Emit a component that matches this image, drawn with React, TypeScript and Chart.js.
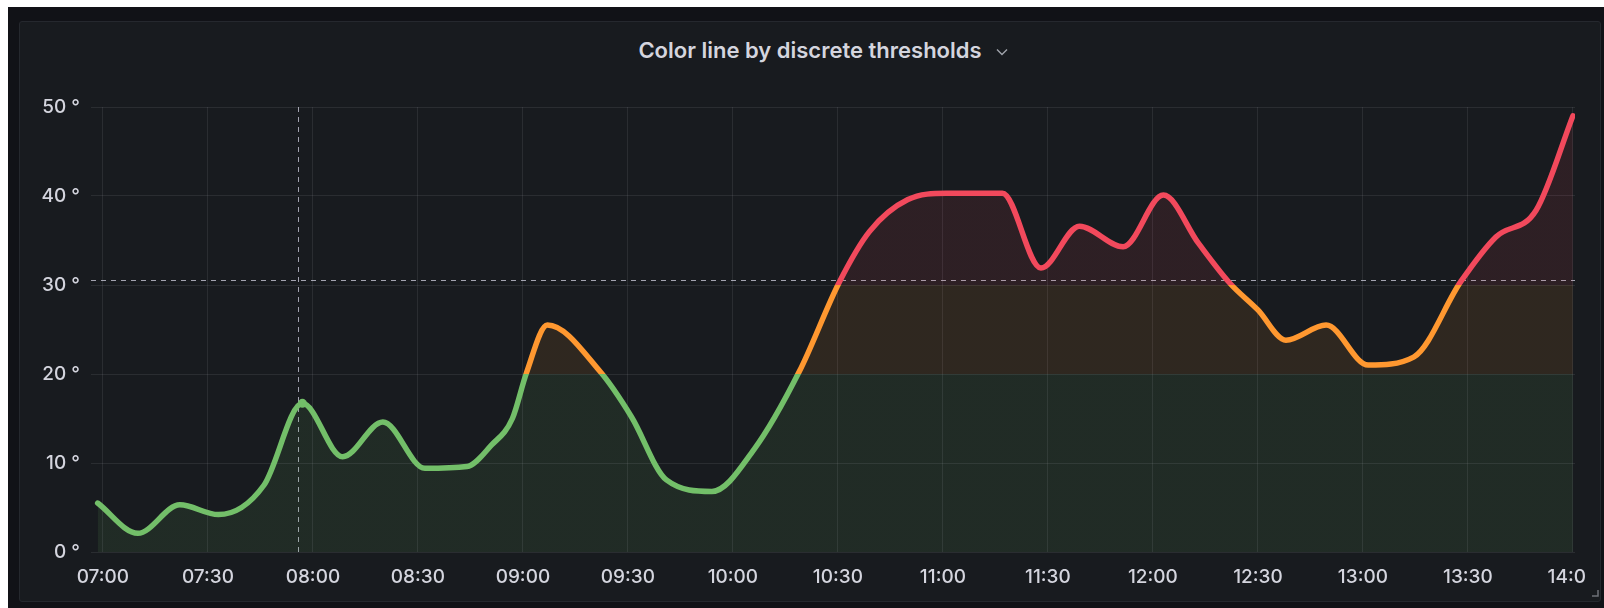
import React, { useEffect, useRef } from 'react';
import { Chart, registerables } from 'chart.js';

Chart.register(...registerables);

// minutes after 07:00
const TIME_MINUTES = [-1.5, 10, 22, 33, 46, 57, 68.5, 80, 92, 104, 111, 117, 121, 127, 142, 151, 161, 174, 186, 199, 210.5, 219, 230, 241, 257, 268, 279, 291.5, 303, 313, 322, 330, 338, 349.5, 361.5, 374.5, 388, 398, 409.5, 420];
const TEMPERATURES = [5.5, 2.1, 5.3, 4.2, 7.5, 16.7, 10.7, 14.6, 9.4, 9.6, 12, 15, 20.1, 25.5, 20.3, 15.2, 8.1, 6.8, 11.5, 20.3, 30.4, 36, 39.6, 40.3, 40.3, 31.9, 36.6, 34.3, 40.1, 34.7, 30.2, 27.2, 23.8, 25.5, 21, 21.9, 30.4, 35.4, 38.4, 49];

const X_TICK_VALUES = [0, 30, 60, 90, 120, 150, 180, 210, 240, 270, 300, 330, 360, 390, 420];
const X_TICK_LABELS = ['07:00', '07:30', '08:00', '08:30', '09:00', '09:30', '10:00', '10:30', '11:00', '11:30', '12:00', '12:30', '13:00', '13:30', '14:00'];
const Y_TICK_VALUES = [0, 10, 20, 30, 40, 50];

const X_MIN = -3.4;
const X_MAX = 420.6;

const THRESHOLDS = [20, 30];
const THRESHOLD_COLORS = ['#73bf69', '#ff9830', '#f2495c'];
const THRESHOLD_FILLS = ['rgba(115,191,105,0.1)', 'rgba(255,152,48,0.1)', 'rgba(242,73,92,0.1)'];

const CURSOR_X = 55.7;
const CURSOR_Y = 30.56;
const HOVER_INDEX = 5;

const TITLE = 'Color line by discrete thresholds';

function bandGradient(chart: any, colors: string[]) {
  const { ctx, chartArea, scales } = chart;
  if (!chartArea) return colors[0];
  const top = chartArea.top;
  const bottom = chartArea.bottom;
  const h = bottom - top;
  const g = ctx.createLinearGradient(0, bottom, 0, top);
  g.addColorStop(0, colors[0]);
  THRESHOLDS.forEach((t, i) => {
    const p = Math.min(1, Math.max(0, (bottom - scales.y.getPixelForValue(t)) / h));
    g.addColorStop(p, colors[i]);
    g.addColorStop(p, colors[i + 1]);
  });
  g.addColorStop(1, colors[colors.length - 1]);
  return g;
}

const crosshairPlugin = {
  id: 'crosshair',
  beforeDatasetsDraw(chart: any) {
    const { ctx, chartArea, scales } = chart;
    const x = scales.x.getPixelForValue(CURSOR_X);
    const y = scales.y.getPixelForValue(CURSOR_Y);
    ctx.save();
    ctx.strokeStyle = 'rgba(210,210,225,0.75)';
    ctx.lineWidth = 1;
    ctx.setLineDash([5, 5]);
    ctx.beginPath();
    ctx.moveTo(Math.round(x) + 0.5, chartArea.top);
    ctx.lineTo(Math.round(x) + 0.5, chartArea.bottom);
    ctx.moveTo(chartArea.left, Math.round(y) + 0.5);
    ctx.lineTo(chartArea.right, Math.round(y) + 0.5);
    ctx.stroke();
    ctx.restore();
  },
};

export default function App() {
  const canvasRef = useRef<HTMLCanvasElement | null>(null);

  useEffect(() => {
    if (!canvasRef.current) return;
    Chart.defaults.font.family = 'Inter';
    const data = TIME_MINUTES.map((t, i) => ({ x: t, y: TEMPERATURES[i] }));
    const chart = new Chart(canvasRef.current, {
      type: 'line',
      data: {
        datasets: [
          {
            data,
            borderWidth: 5.5,
            borderCapStyle: 'round',
            borderJoinStyle: 'round',
            cubicInterpolationMode: 'monotone',
            fill: 'origin',
            borderColor: (c: any) => bandGradient(c.chart, THRESHOLD_COLORS),
            backgroundColor: (c: any) => bandGradient(c.chart, THRESHOLD_FILLS),
            pointRadius: (c: any) => (c.dataIndex === HOVER_INDEX ? 4.5 : 0),
            pointHoverRadius: 0,
            pointBorderWidth: 0,
            pointBackgroundColor: THRESHOLD_COLORS[0],
          } as any,
        ],
      },
      options: {
        responsive: true,
        maintainAspectRatio: false,
        animation: false,
        events: [],
        layout: { padding: { top: 27, right: 55, left: 0, bottom: 0 } },
        plugins: { legend: { display: false }, tooltip: { enabled: false } },
        scales: {
          x: {
            type: 'linear',
            min: X_MIN,
            max: X_MAX,
            afterBuildTicks: (scale: any) => {
              scale.ticks = X_TICK_VALUES.map((v) => ({ value: v }));
            },
            afterFit: (scale: any) => {
              scale.height = 48;
            },
            ticks: {
              autoSkip: false,
              maxRotation: 0,
              padding: 14,
              color: '#d4d5de',
              font: { size: 19, family: 'Inter', weight: 500 },
              callback: (v: any) => {
                const i = X_TICK_VALUES.indexOf(Number(v));
                return i >= 0 ? X_TICK_LABELS[i] : '';
              },
            },
            grid: { color: 'rgba(204,204,220,0.1)', drawTicks: false },
            border: { display: false },
          },
          y: {
            min: 0,
            max: 50,
            afterBuildTicks: (scale: any) => {
              scale.ticks = Y_TICK_VALUES.map((v) => ({ value: v }));
            },
            afterFit: (scale: any) => {
              scale.width = 71;
            },
            ticks: {
              padding: 11,
              color: '#d4d5de',
              font: { size: 19, family: 'Inter', weight: 500 },
              callback: (v: any) => `${v} °`,
            },
            grid: { color: 'rgba(204,204,220,0.1)', drawTicks: false },
            border: { display: false },
          },
        },
      } as any,
      plugins: [crosshairPlugin],
    });
    return () => chart.destroy();
  }, []);

  return (
    <div style={{ fontFamily: 'Inter, sans-serif' }}>
      <div style={{ position: 'fixed', left: 8, top: 7, width: 1596, height: 601, background: '#111217' }} />
      <div
        style={{
          position: 'fixed',
          left: 19,
          top: 21,
          width: 1582,
          height: 581,
          background: '#181b1f',
          border: '1px solid #25282e',
          borderRadius: 3,
          boxSizing: 'border-box',
        }}
      />
      <div
        style={{
          position: 'fixed',
          left: 19,
          top: 36,
          width: 1582,
          height: 28,
          lineHeight: '28px',
          textAlign: 'center',
          color: '#d4d5de',
          fontSize: 22,
          fontWeight: 600,
          whiteSpace: 'nowrap',
        }}
      >
        <span style={{ position: 'relative' }}>
          {TITLE}
          <svg
            width="12"
            height="8"
            viewBox="0 0 12 8"
            style={{ position: 'absolute', right: -26, top: 11 }}
          >
            <polyline points="1,1.5 6,6.5 11,1.5" fill="none" stroke="#9fa3ab" strokeWidth="1.4" />
          </svg>
        </span>
      </div>
      <div style={{ position: 'fixed', left: 20, top: 80, width: 1567, height: 520, overflow: 'hidden' }}>
        <div style={{ position: 'relative', width: 1610, height: 520 }}>
          <canvas ref={canvasRef} />
        </div>
      </div>
      <svg width="8" height="8" style={{ position: 'fixed', left: 1591, top: 589 }}>
        <polyline points="7,1 7,7 1,7" fill="none" stroke="#6e7178" strokeWidth="1.5" />
      </svg>
    </div>
  );
}
